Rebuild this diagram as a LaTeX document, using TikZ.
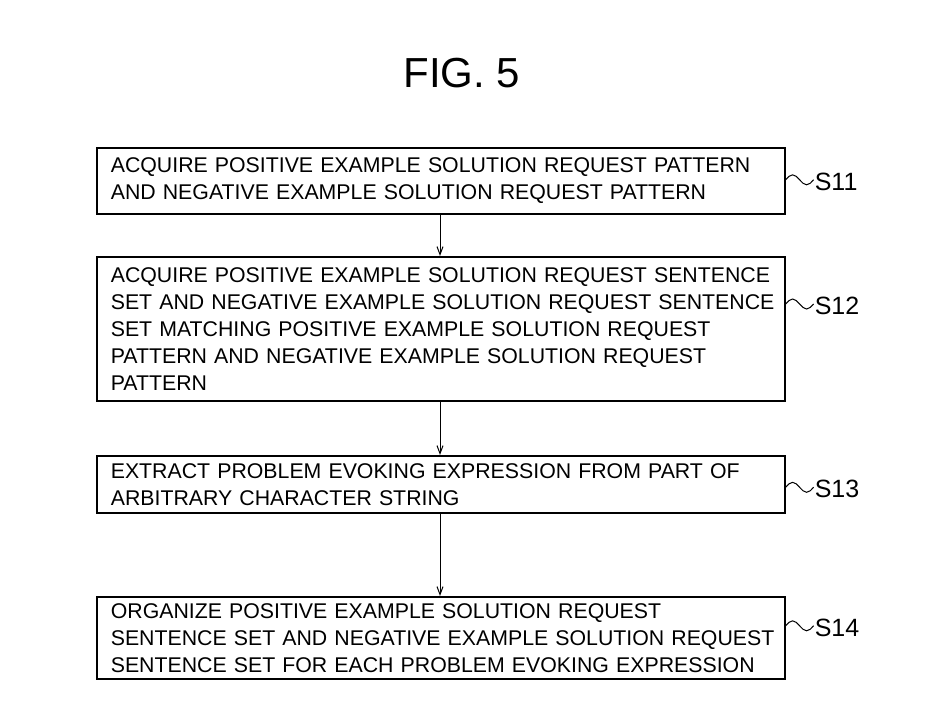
\documentclass[tikz,border=0pt]{standalone}
\usepackage{fontspec}
\setmainfont{Liberation Sans}
\usetikzlibrary{arrows.meta}
\begin{document}
\begin{tikzpicture}[x=1pt,y=-1pt,
  box/.style={draw, line width=1.6pt, minimum width=688pt, text width=670pt, align=left,
    inner xsep=9pt, inner ysep=4pt, font=\fontsize{21.3}{27}\selectfont, anchor=north west},
  steplabel/.style={anchor=west, inner sep=0pt, font=\fontsize{25}{28}\selectfont},
  wave/.style={line width=1pt},
  arr/.style={line width=1pt, -{Straight Barb[length=8pt,width=6pt]}}]
\useasboundingbox (0,0) rectangle (952,713);
\node[font=\fontsize{42}{44}\selectfont, inner sep=0pt] (title) at (462,73) {FIG. 5};
\node[box, minimum height=66pt] (b1) at (96,147) {\hspace*{5pt}ACQUIRE POSITIVE EXAMPLE SOLUTION REQUEST PATTERN\\\hspace*{5pt}AND NEGATIVE EXAMPLE SOLUTION REQUEST PATTERN};
\node[box, minimum height=144pt] (b2) at (96,256) {\hspace*{5pt}ACQUIRE POSITIVE EXAMPLE SOLUTION REQUEST SENTENCE\\\hspace*{5pt}SET AND NEGATIVE EXAMPLE SOLUTION REQUEST SENTENCE\\\hspace*{5pt}SET MATCHING POSITIVE EXAMPLE SOLUTION REQUEST\\\hspace*{5pt}PATTERN AND NEGATIVE EXAMPLE SOLUTION REQUEST\\\hspace*{5pt}PATTERN};
\node[box, minimum height=57pt] (b3) at (96,455) {\hspace*{5pt}EXTRACT PROBLEM EVOKING EXPRESSION FROM PART OF\\\hspace*{5pt}ARBITRARY CHARACTER STRING};
\node[box, minimum height=82pt] (b4) at (96,596) {\hspace*{5pt}ORGANIZE POSITIVE EXAMPLE SOLUTION REQUEST\\\hspace*{5pt}SENTENCE SET AND NEGATIVE EXAMPLE SOLUTION REQUEST\\\hspace*{5pt}SENTENCE SET FOR EACH PROBLEM EVOKING EXPRESSION};
% connectors
\draw[arr] ([xshift=344pt]b1.south west) -- ([xshift=344pt]b2.north west);
\draw[arr] ([xshift=344pt]b2.south west) -- ([xshift=344pt]b3.north west);
\draw[arr] ([xshift=344pt]b3.south west) -- ([xshift=344pt]b4.north west);
% step labels
\coordinate (w1) at ([yshift=1pt]b1.east);
\coordinate (w2) at ([yshift=-48pt]b2.north east);
\coordinate (w3) at ([yshift=-3pt]b3.east);
\coordinate (w4) at ([yshift=12pt]b4.east);
\foreach \i/\s in {1/S11,2/S12,3/S13,4/S14}{
  \draw[wave] (w\i) sin ++(7,-5) cos ++(7,5) sin ++(7,5) cos ++(7,-5) coordinate (e\i);
  \node[steplabel] (l\i) at ([xshift=1pt,yshift=-2pt]e\i) {\s};
}
\end{tikzpicture}
\end{document}
